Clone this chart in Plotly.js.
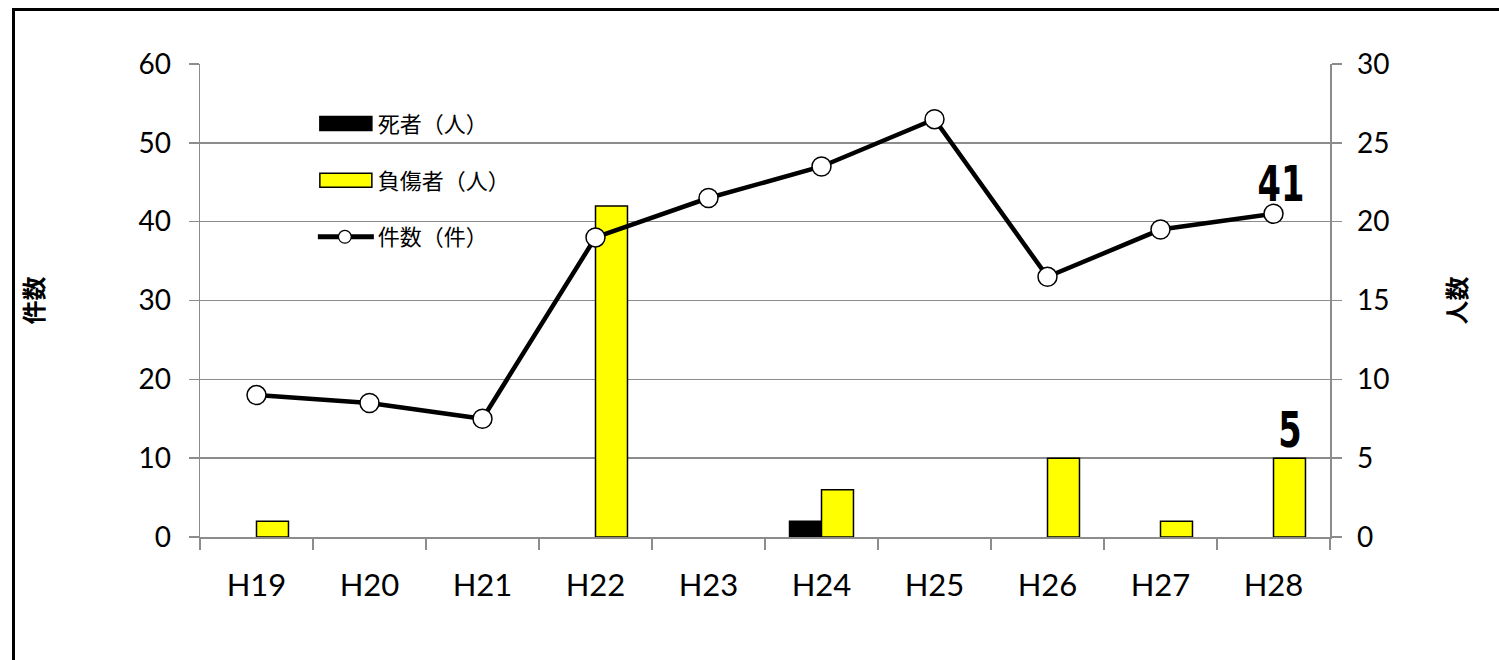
<!DOCTYPE html>
<html>
<head>
<meta charset="utf-8">
<script src="https://cdn.plot.ly/plotly-3.0.1.min.js"></script>
<style>
html, body { margin: 0; padding: 0; background: #fff; }
#wrap { position: relative; width: 1499px; height: 660px; overflow: hidden; }
#chart { width: 1499px; height: 660px; }
#frame { position: absolute; left: 12px; top: 8px; width: 1520px; height: 700px; border: 3px solid #000; pointer-events: none; }
</style>
</head>
<body>
<div id="wrap"><div id="chart"></div><div id="frame"></div></div>
<script>
// ---- data ----
const years = ['H19', 'H20', 'H21', 'H22', 'H23', 'H24', 'H25', 'H26', 'H27', 'H28'];
const deaths = [0, 0, 0, 0, 0, 1, 0, 0, 0, 0];          // 死者（人）
const injured = [1, 0, 0, 21, 0, 3, 0, 5, 1, 5];        // 負傷者（人）
const cases = [18, 17, 15, 38, 43, 47, 53, 33, 39, 41]; // 件数（件）
const leftTicks = [0, 10, 20, 30, 40, 50, 60];
const rightTicks = [0, 5, 10, 15, 20, 25, 30];

const jp = '"Noto Sans CJK JP", "Noto Sans", sans-serif';
const num = 'Lato, "Open Sans", sans-serif';
const grid = '#8c8c8c';
const noZero = v => (v === 0 ? null : v);

const traces = [
  {
    type: 'bar', name: '死者（人）', x: years, y: deaths.map(noZero), yaxis: 'y',
    marker: { color: '#000000', line: { color: '#000000', width: 1.5 } },
    legendgroup: 'a', hoverinfo: 'x+y'
  },
  {
    type: 'bar', name: '負傷者（人）', x: years, y: injured.map(noZero), yaxis: 'y',
    marker: { color: '#ffff00', line: { color: '#000000', width: 1.5 } },
    legendgroup: 'b', hoverinfo: 'x+y'
  },
  {
    type: 'scatter', mode: 'lines+markers', name: '件数（件）', x: years, y: cases, yaxis: 'y2',
    line: { color: '#000000', width: 4.5 },
    marker: { symbol: 'circle', size: 19, color: '#ffffff', line: { color: '#000000', width: 1.5 } },
    legendgroup: 'c', hoverinfo: 'x+y'
  }
];

const last = years.length - 1;
const bigFont = { family: '"DejaVu Sans Condensed", "DejaVu Sans", sans-serif', size: 48, weight: 'bold', color: '#000000' };

const layout = {
  width: 1499, height: 660,
  margin: { l: 200, r: 169, t: 64, b: 123 },
  paper_bgcolor: '#ffffff', plot_bgcolor: 'rgba(0,0,0,0)',
  barmode: 'group', bargap: 0.434, bargroupgap: 0,
  font: { family: num, color: '#000000', size: 28 },
  showlegend: true,
  legend: {
    x: 0.122, y: 0.918, xanchor: 'left', yanchor: 'top',
    bgcolor: 'rgba(0,0,0,0)', borderwidth: 0,
    font: { family: jp, size: 22, color: '#000000' },
    traceorder: 'grouped', tracegroupgap: 25
  },
  xaxis: {
    type: 'category', categoryorder: 'array', categoryarray: years,
    range: [-0.5, years.length - 0.5], autorange: false,
    tickson: 'boundaries', ticks: 'outside', ticklen: 11, tickwidth: 1.5, tickcolor: grid,
    showline: true, linecolor: grid, linewidth: 1.5,
    showgrid: false, zeroline: false,
    tickfont: { family: num, size: 31, color: '#000000' },
    ticklabelstandoff: 20
  },
  yaxis: {
    side: 'right', range: [0, 30], tickvals: rightTicks, ticktext: rightTicks.map(String),
    ticks: 'outside', ticklen: 10, tickwidth: 1.5, tickcolor: grid,
    showline: true, linecolor: grid, linewidth: 1.5,
    showgrid: true, gridcolor: grid, gridwidth: 1.5, zeroline: false,
    tickfont: { family: num, size: 28, color: '#000000' },
    ticklabelstandoff: 10,
    title: { text: '人数', font: { family: jp, size: 24, color: '#000000', weight: 'bold' }, standoff: 60 }
  },
  yaxis2: {
    side: 'left', overlaying: 'y', range: [0, 60], tickvals: leftTicks, ticktext: leftTicks.map(String),
    ticks: 'outside', ticklen: 10, tickwidth: 1.5, tickcolor: grid,
    showline: true, linecolor: grid, linewidth: 1.5,
    showgrid: false, zeroline: false,
    tickfont: { family: num, size: 28, color: '#000000' },
    ticklabelstandoff: 12,
    title: { text: '件数', font: { family: jp, size: 24, color: '#000000', weight: 'bold' }, standoff: 88 }
  },
  shapes: [
    { type: 'rect', xref: 'paper', yref: 'paper', x0: 0.053, x1: 0.327, y0: 0.586, y1: 0.913,
      fillcolor: '#ffffff', line: { width: 0 }, layer: 'between' }
  ],
  annotations: [
    { x: years[last], y: cases[last], xref: 'x', yref: 'y2', text: String(cases[last]),
      showarrow: false, yanchor: 'bottom', yshift: 2, xshift: 7, font: bigFont },
    { x: years[last], y: injured[last], xref: 'x', yref: 'y', text: String(injured[last]),
      showarrow: false, yanchor: 'bottom', yshift: 0, xshift: 16, font: bigFont }
  ]
};

Plotly.newPlot('chart', traces, layout, { displayModeBar: false, staticPlot: true }).then(gd => {
  // narrow the big value labels horizontally (condensed look)
  gd.querySelectorAll('.annotation-text').forEach(t => {
    const b = t.getBBox();
    const cx = b.x + b.width / 2;
    t.setAttribute('transform', `translate(${cx},0) scale(0.78,1.05) translate(${-cx},0)`);
  });
  // let legend swatches extend left of the legend box
  gd.querySelectorAll('.legend .scrollbox, .legend').forEach(el => el.removeAttribute('clip-path'));
  // wide legend swatches like the original
  const items = gd.querySelectorAll('.legend .traces');
  items.forEach((item, i) => {
    if (i < 2) {
      item.querySelectorAll('.legendpoints path').forEach(p => {
        p.setAttribute('d', 'M-26,7H26V-7H-26Z');
        p.setAttribute('transform', 'translate(8,0)');
      });
    } else {
      item.querySelectorAll('.legendlines path').forEach(p => {
        p.setAttribute('d', 'M-20,0h56');
        p.setAttribute('transform', '');
        p.style.strokeWidth = '5px';
      });
      item.querySelectorAll('.legendpoints path').forEach(p => {
        p.setAttribute('transform', 'translate(7,0) scale(0.8)');
      });
    }
  });
});
</script>
</body>
</html>
